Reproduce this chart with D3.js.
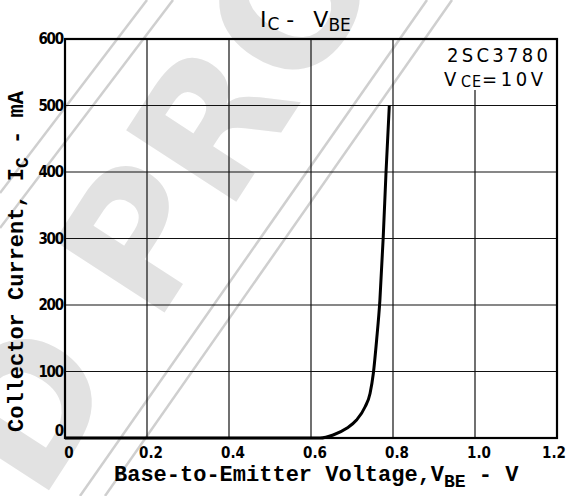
<!DOCTYPE html>
<html>
<head>
<meta charset="utf-8">
<script src="https://cdn.jsdelivr.net/npm/d3@7"></script>
<style>
  html, body { margin: 0; padding: 0; background: #fff; }
  svg { display: block; }
</style>
</head>
<body>
<script>
(function () {
    "use strict";

    // curve: VBE (V) against IC (mA)
    var vbe = [0, 0.30, 0.60, 0.622, 0.654, 0.687, 0.711, 0.732, 0.744, 0.752, 0.760, 0.768, 0.776, 0.783, 0.791];
    var ic  = [0, 0, 0, 0, 4.5, 14.6, 27, 47, 67, 97, 147, 207, 300, 400, 500];

    var xTicks = [0, 0.2, 0.4, 0.6, 0.8, 1.0, 1.2];
    var xTickLabels = ["0", "0.2", "0.4", "0.6", "0.8", "1.0", "1.2"];
    var yTicks = [0, 100, 200, 300, 400, 500, 600];
    var yTickLabels = ["0", "100", "200", "300", "400", "500", "600"];

    var partName = "2SC3780";
    var condition = ["V", "CE", "=10V"];
    var stamp = "D PRO";

    var width = 574, height = 496;
    var margin = {top: 39, right: 17, bottom: 58, left: 65};

    var x = d3.scaleLinear().domain([0, 1.2]).range([margin.left, width - margin.right]);
    var y = d3.scaleLinear().domain([0, 600]).range([height - margin.bottom, margin.top]);

    var svg = d3.select("body").append("svg")
        .attr("width", width)
        .attr("height", height);

    var mono = "'Courier New', 'Liberation Mono', monospace";
    var narrow = "'Liberation Sans Narrow', 'DejaVu Sans Condensed', 'DejaVu Sans', sans-serif";
    var cond = "'DejaVu Sans Condensed', 'DejaVu Sans', sans-serif";

    // faint scanned-datasheet stamp behind everything
    var stampG = svg.append("g").attr("fill", "none").attr("stroke", "#cfcfcf").attr("stroke-width", 2.5);
    [[147, 0, 0, 193], [173, 0, 0, 228], [427, 0, 80, 496], [452, 0, 105, 496]].forEach(function (s) {
        stampG.append("line")
            .attr("x1", s[0]).attr("y1", s[1])
            .attr("x2", s[2]).attr("y2", s[3]);
    });

    svg.append("text")
        .attr("transform", "translate(40,504) rotate(-57)")
        .attr("font-family", "DejaVu Sans")
        .attr("font-weight", "bold")
        .attr("font-size", 180)
        .attr("fill", "#e2e2e2")
        .attr("xml:space", "preserve")
        .text(stamp);

    // grid
    svg.append("g")
        .selectAll("line")
        .data(xTicks.slice(1, -1))
        .join("line")
        .attr("x1", function (d) { return x(d); })
        .attr("x2", function (d) { return x(d); })
        .attr("y1", y(600))
        .attr("y2", y(0))
        .attr("stroke", "#111")
        .attr("stroke-width", 1.2);

    svg.append("g")
        .selectAll("line")
        .data(yTicks.slice(1, -1))
        .join("line")
        .attr("x1", x(0))
        .attr("x2", x(1.2))
        .attr("y1", function (d) { return y(d); })
        .attr("y2", function (d) { return y(d); })
        .attr("stroke", "#111")
        .attr("stroke-width", 1.2);

    // legend backing hides the 1.0 grid line above it
    svg.append("rect")
        .attr("x", x(1.0) - 34)
        .attr("y", y(600) + 1)
        .attr("width", x(1.2) - x(1.0) + 32)
        .attr("height", 50)
        .attr("fill", "#fff");

    // frame
    svg.append("rect")
        .attr("x", x(0))
        .attr("y", y(600))
        .attr("width", x(1.2) - x(0))
        .attr("height", y(0) - y(600))
        .attr("fill", "none")
        .attr("stroke", "#000")
        .attr("stroke-width", 2.2);

    // the curve
    var line = d3.line()
        .x(function (d, i) { return x(vbe[i]); })
        .y(function (d) { return y(d); })
        .curve(d3.curveMonotoneX);

    svg.append("path")
        .datum(ic)
        .attr("d", line)
        .attr("fill", "none")
        .attr("stroke", "#000")
        .attr("stroke-width", 3)
        .attr("stroke-linejoin", "round");

    // tick labels
    svg.append("g")
        .selectAll("text")
        .data(xTicks)
        .join("text")
        .attr("x", function (d, i) { return i === xTicks.length - 1 ? x(d) + 9 : x(d) + 4; })
        .attr("y", height - margin.bottom + 20)
        .attr("text-anchor", function (d, i) { return i === xTicks.length - 1 ? "end" : "middle"; })
        .attr("font-family", narrow)
        .attr("font-weight", "bold")
        .attr("font-size", 15)
        .text(function (d, i) { return xTickLabels[i]; });

    svg.append("g")
        .selectAll("text")
        .data(yTicks)
        .join("text")
        .attr("x", x(0) - 2)
        .attr("y", function (d) { return d === 0 ? y(d) - 2 : y(d) + 5; })
        .attr("text-anchor", "end")
        .attr("font-family", narrow)
        .attr("font-weight", "bold")
        .attr("font-size", 15)
        .attr("letter-spacing", -1.2)
        .text(function (d, i) { return yTickLabels[i]; });

    // title  I_C - V_BE
    var title = svg.append("text")
        .attr("x", 260)
        .attr("y", 27)
        .attr("font-family", "DejaVu Sans")
        .attr("font-size", 22);
    title.append("tspan").text("I");
    title.append("tspan").attr("font-size", 17).attr("dy", 3).attr("dx", 1).text("C");
    title.append("tspan").attr("dy", -3).text(" - ");
    title.append("tspan").attr("dx", 12).text("V");
    title.append("tspan").attr("font-size", 17).attr("dy", 4).text("BE");

    // legend
    svg.append("text")
        .attr("x", 447)
        .attr("y", 62)
        .attr("font-family", cond)
        .attr("font-size", 20)
        .attr("letter-spacing", 3.3)
        .text(partName);

    var condText = svg.append("text")
        .attr("x", 444)
        .attr("y", 85.5)
        .attr("font-family", cond)
        .attr("font-size", 20);
    condText.append("tspan").text(condition[0]);
    condText.append("tspan").attr("x", 461).attr("dy", 1).attr("font-size", 16).attr("letter-spacing", 1).text(condition[1]);
    condText.append("tspan").attr("x", 482).attr("dy", -1).attr("letter-spacing", 3.6).text(condition[2]);

    // axis titles
    var xTitle = svg.append("text")
        .attr("x", 114)
        .attr("y", 481)
        .attr("font-family", mono)
        .attr("font-weight", "bold")
        .attr("font-size", 22)
        .attr("xml:space", "preserve");
    xTitle.append("tspan").text("Base-to-Emitter Voltage,V");
    xTitle.append("tspan").attr("font-size", 18).attr("dy", 6).text("BE");
    xTitle.append("tspan").attr("dy", -6).text(" - V");

    var yTitle = svg.append("text")
        .attr("transform", "translate(23,432) rotate(-90)")
        .attr("font-family", mono)
        .attr("font-weight", "bold")
        .attr("font-size", 22)
        .attr("xml:space", "preserve");
    yTitle.append("tspan").text("Collector Current, I");
    yTitle.append("tspan").attr("font-size", 18).attr("dy", 5).text("C");
    yTitle.append("tspan").attr("dy", -5).text(" - mA");
})();
</script>
</body>
</html>
